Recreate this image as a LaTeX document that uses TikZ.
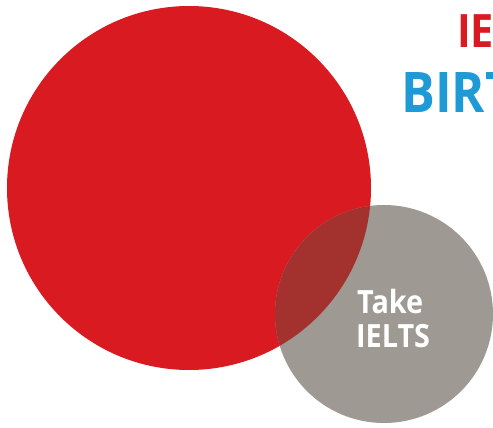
\documentclass[tikz,border=0pt]{standalone}
\usepackage{fontspec}
\setmainfont{Open Sans}[FakeStretch=0.9]
\definecolor{bigred}{HTML}{D91A21}
\definecolor{stone}{HTML}{9E9A93}
\definecolor{overlap}{HTML}{A3322F}
\definecolor{titleblue}{HTML}{1E9AD6}
\tikzset{
  lbl/.style={inner sep=0pt, anchor=base west, font=\bfseries}
}
\begin{document}
\begin{tikzpicture}[x=1pt,y=-1pt]
\useasboundingbox (0,0) rectangle (493,428);
\clip (0,0) rectangle (493,428);
\fill[bigred] (189,188) circle (182);
\fill[stone] (384,314) circle (109);
\begin{scope}
  \clip (189,188) circle (182);
  \fill[overlap] (384,314) circle (109);
\end{scope}
\node[lbl, text=bigred, font=\bfseries\fontsize{46}{46}\selectfont] (ie) at (457,48) {IE};
\node[lbl, text=titleblue, font=\bfseries\fontsize{56}{56}\selectfont] (birt) at (401,113) {BIRT};
\node[lbl, text=white, font=\bfseries\fontsize{32}{32}\selectfont] (take) at (357,313) {Take};
\node[lbl, text=white, font=\bfseries\fontsize{32}{32}\selectfont] (ielts) at (356,347) {IELTS};
\end{tikzpicture}
\end{document}
